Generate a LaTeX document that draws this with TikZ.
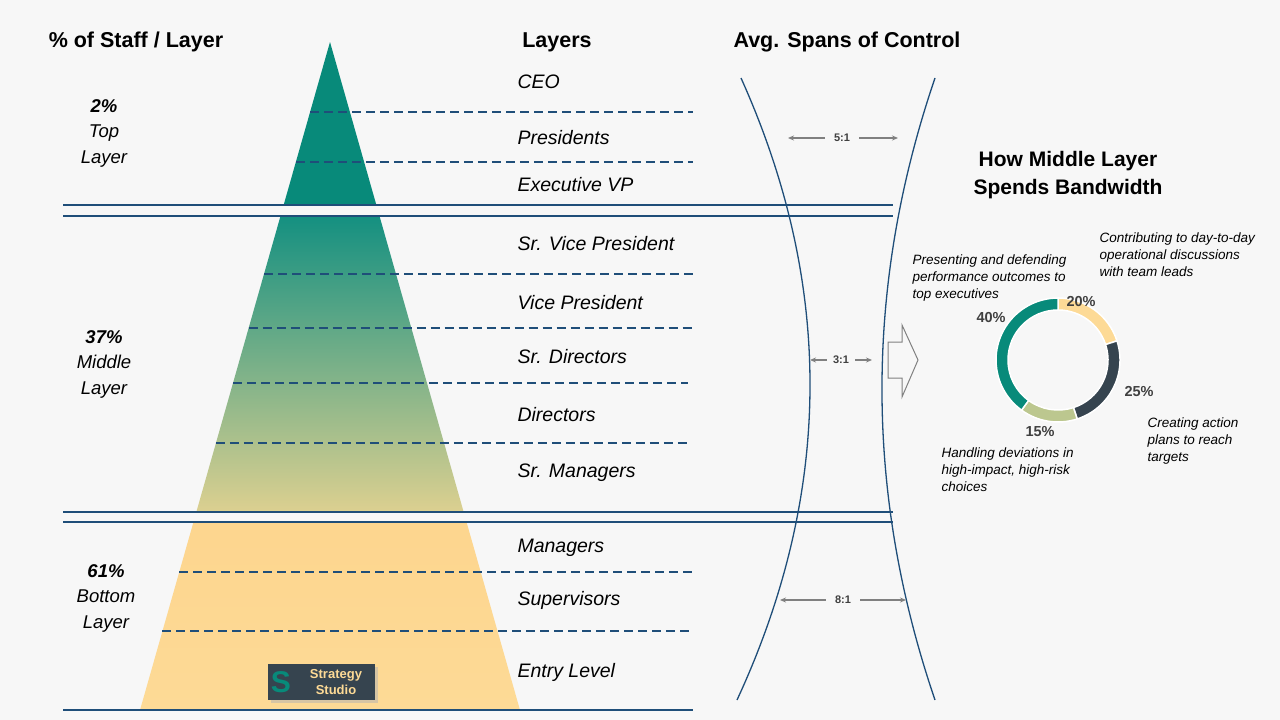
\documentclass[tikz,border=0pt]{standalone}
\usepackage{fontspec}
\setmainfont{Liberation Sans}
\usetikzlibrary{arrows.meta}
\definecolor{bg}{HTML}{F7F7F7}
\definecolor{ln}{HTML}{1F4E79}
\definecolor{teal1}{HTML}{088A7A}
\definecolor{mid2}{HTML}{DCD090}
\definecolor{yel}{HTML}{FDDA96}
\definecolor{dark}{HTML}{36444F}
\definecolor{lgreen}{HTML}{BCC78F}
\definecolor{pct}{HTML}{404040}
\begin{document}
\begin{tikzpicture}[x=1pt,y=-1pt,
  hdr/.style={font=\fontsize{21.5}{24}\selectfont\bfseries},
  lay/.style={anchor=west,font=\fontsize{19.5}{22}\selectfont\itshape},
  lft/.style={align=center,font=\fontsize{18.5}{25.5}\selectfont\itshape},
  dl/.style={ln,dashed,dash pattern=on 9pt off 5pt,line width=1.1pt},
  sl/.style={ln,line width=1.2pt},
  sm/.style={-{Stealth[length=6pt,width=5pt]},gray,line width=1.3pt},
  captxt/.style={font=\fontsize{13.5}{17}\selectfont\itshape,align=left,anchor=north west},
  pc/.style={font=\fontsize{14.5}{16}\selectfont\bfseries,text=pct}]
\fill[bg] (0,0) rectangle (1280,720);
\useasboundingbox (0,0) rectangle (1280,720);
% pyramid
\def\L#1{330-(#1-42)*0.2844}
\def\R#1{330+(#1-42)*0.2844}
\fill[teal1] (330,42) -- ({\R{205}},205) -- ({\L{205}},205) -- cycle;
\shade[top color=teal1!95!white,bottom color=mid2] ({\L{216}},216) -- ({\R{216}},216) -- ({\R{512}},512) -- ({\L{512}},512) -- cycle;
\shade[top color=yel!95!orange,bottom color=yel] ({\L{522}},522) -- ({\R{522}},522) -- ({\R{710}},710) -- ({\L{710}},710) -- cycle;
% lines
\foreach \y in {205,216,512,522} \draw[sl] (63,\y) -- (893,\y);
\draw[sl] (63,710) -- (693,710);
\foreach \y/\e in {112/693,162/693,274/693,328/693,383/688,443/688,572/693,631/693}
  \draw[dl] ({\L{\y}},\y) -- (\e,\y);
% headers
\node[hdr] (h1) at (136,42) {\% of Staff / Layer};
\node[hdr] (h2) at (557,42) {Layers};
\node[hdr] (h3) at (847,42) {Avg. Spans of Control};
\node[hdr,align=center,font=\fontsize{21}{28}\selectfont\bfseries] (h4) at (1068,175) {How Middle Layer\\Spends Bandwidth};
% layer labels
\foreach \t/\y [count=\i] in {CEO/82,Presidents/138,Executive VP/185,Sr. Vice President/244,Vice President/303,Sr. Directors/357,Directors/415,Sr. Managers/473,Managers/548,Supervisors/600,Entry Level/672}
  \node[lay] (l\i) at (514,\y) {\t};
\node[lft] (tl) at (104,133) {\textbf{2\%}\\Top\\Layer};
\node[lft] (ml) at (104,364) {\textbf{37\%}\\Middle\\Layer};
\node[lft] (bl) at (106,598) {\textbf{61\%}\\Bottom\\Layer};
% curves
\draw[ln,line width=1.3pt] (741,78) .. controls (834.3,285.3) and (833,492.7) .. (737,700);
\draw[ln,line width=1.3pt] (935,78) .. controls (864.3,285.3) and (864.3,492.7) .. (935,700);
\node[font=\fontsize{11}{12}\selectfont\bfseries,text=pct] (s1) at (842,138) {5:1};
\node[font=\fontsize{11}{12}\selectfont\bfseries,text=pct] (s2) at (841,360) {3:1};
\node[font=\fontsize{11}{12}\selectfont\bfseries,text=pct] (s3) at (843,600) {8:1};
\draw[sm] (s1.west) ++(-6,0) -- (788,138);
\draw[sm] (s1.east) ++(6,0) -- (898,138);
\draw[sm] (s2.west) ++(-3,0) -- (810,360);
\draw[sm] (s2.east) ++(3,0) -- (872,360);
\draw[sm] (s3.west) ++(-6,0) -- (780,600);
\draw[sm] (s3.east) ++(6,0) -- (906,600);
% block arrow
\draw[gray,line width=1pt,fill=bg] (888,342) -- (902,342) -- (902,325) -- (918,360) -- (902,397) -- (902,378) -- (888,378) -- cycle;
% donut
\begin{scope}[shift={(1058,360)},yscale=-1]
\def\ro{62}\def\ri{50}
\foreach \a/\b/\c in {90/18/yel,18/-72/dark,-72/-126/lgreen,-126/-270/teal1}
  \fill[\c,draw=white,line width=1.5pt] (\a:\ro) arc[start angle=\a,end angle=\b,radius=\ro] -- (\b:\ri) arc[start angle=\b,end angle=\a,radius=\ri] -- cycle;
\end{scope}
\node[pc] (p20) at (1081,302) {20\%};
\node[pc] (p25) at (1139,392) {25\%};
\node[pc] (p15) at (1040,432) {15\%};
\node[pc] (p40) at (991,318) {40\%};
\node[captxt] (c1) at (909,251) {Presenting and defending\\performance outcomes to\\top executives};
\node[captxt] (c2) at (1096,229) {Contributing to day-to-day\\operational discussions\\with team leads};
\node[captxt] (c3) at (1144,414) {Creating action\\plans to reach\\targets};
\node[captxt] (c4) at (938,444) {Handling deviations in\\high-impact, high-risk\\choices};
% logo
\fill[black!30,opacity=0.5] (271,667) rectangle (378,703);
\node[fill=dark,minimum width=107pt,minimum height=36pt,anchor=north west,inner sep=0] (logo) at (268,664) {};
\node[text=teal1,font=\fontsize{30}{30}\selectfont\bfseries,inner sep=1pt] (ls) at (281,682) {S};
\node[text=yel,font=\fontsize{13}{16}\selectfont\bfseries,align=center,inner sep=1pt] (lt) at (336,682) {Strategy\\Studio};
\end{tikzpicture}
\end{document}
